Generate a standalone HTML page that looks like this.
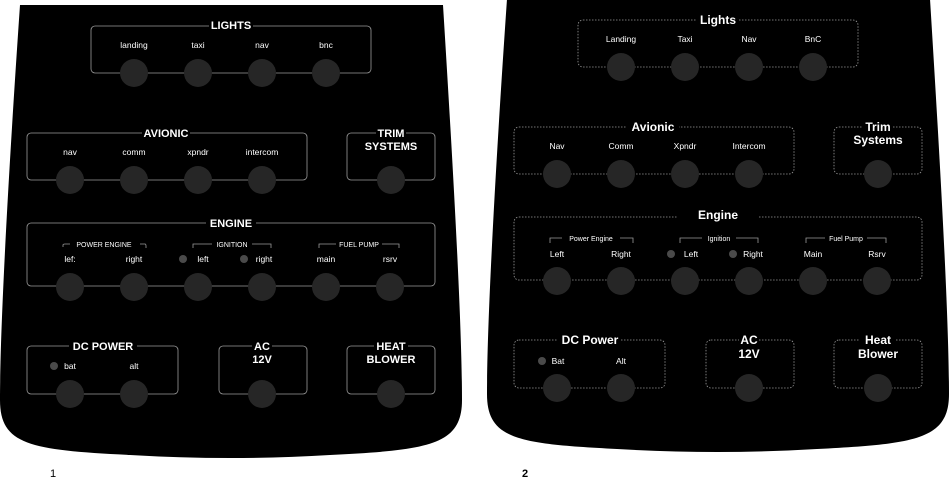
<!DOCTYPE html>
<html><head><meta charset="utf-8"><style>
html,body{margin:0;padding:0;background:#fff;}
svg{display:block;}
text{font-family:"Liberation Sans",sans-serif;fill:#fff;}
.t{font-weight:bold;font-size:11px;text-anchor:middle;}
.l{font-size:8.5px;text-anchor:middle;}
.s{font-size:7px;text-anchor:middle;}
.k{fill:#262626;}
.b{fill:none;stroke:#9a9a9a;stroke-width:0.8;}
.led{fill:#4a4a4a;}
</style></head><body>
<svg width="950" height="479" viewBox="0 0 950 479" xmlns="http://www.w3.org/2000/svg">
<defs>
<path id="shape" d="M20,5 L443,5 C452,150 462,320 462,400 C462,445 430,450 330,455 Q231,461 130,455 C30,450 0,445 0,400 C0,320 10,150 20,5 Z"/>
</defs>

<!-- PANEL 1 -->
<g>
<use href="#shape" fill="#000"/>
<g class="b">
<rect x="91" y="26" width="280" height="47" rx="4"/>
<rect x="27" y="133" width="280" height="47" rx="4"/>
<rect x="347" y="133" width="88" height="47" rx="4"/>
<rect x="27" y="223" width="408" height="63" rx="4"/>
<rect x="27" y="346" width="151" height="48" rx="4"/>
<rect x="219" y="346" width="88" height="48" rx="4"/>
<rect x="347" y="346" width="88" height="48" rx="4"/>
<path d="M63,247 L63,245 Q63,244 65,244 L145,244 Q146,244 146,246 L146,248"/>
<path d="M193,248 L193,244 L271,244 L271,248"/>
<path d="M319,248 L319,244 L399,244 L399,248"/>
</g>
<g fill="#000">
<rect x="209" y="20" width="44" height="12"/>
<rect x="142" y="127" width="48" height="12"/>
<rect x="376" y="127" width="30" height="12"/>
<rect x="206" y="217" width="50" height="12"/>
<rect x="69" y="340" width="68" height="12"/>
<rect x="252" y="340" width="20" height="12"/>
<rect x="374" y="340" width="34" height="12"/>
<rect x="70" y="240" width="70" height="8"/>
<rect x="212" y="240" width="40" height="8"/>
<rect x="336" y="240" width="46" height="8"/>
</g>
<text class="t" x="231" y="29">LIGHTS</text>
<text class="t" x="166" y="137">AVIONIC</text>
<text class="t" x="391" y="137">TRIM</text>
<text class="t" x="391" y="150">SYSTEMS</text>
<text class="t" x="231" y="227">ENGINE</text>
<text class="t" x="103" y="350">DC POWER</text>
<text class="t" x="262" y="350">AC</text>
<text class="t" x="262" y="363">12V</text>
<text class="t" x="391" y="350">HEAT</text>
<text class="t" x="391" y="363">BLOWER</text>
<text class="s" x="104" y="247">POWER ENGINE</text>
<text class="s" x="232" y="247">IGNITION</text>
<text class="s" x="359" y="247">FUEL PUMP</text>
<g class="l">
<text x="134" y="48">landing</text><text x="198" y="48">taxi</text><text x="262" y="48">nav</text><text x="326" y="48">bnc</text>
<text x="70" y="155">nav</text><text x="134" y="155">comm</text><text x="198" y="155">xpndr</text><text x="262" y="155">intercom</text>
<text x="70" y="262">lef:</text><text x="134" y="262">right</text><text x="203" y="262">left</text><text x="264" y="262">right</text><text x="326" y="262">main</text><text x="390" y="262">rsrv</text>
<text x="70" y="369">bat</text><text x="134" y="369">alt</text>
</g>
<circle class="led" cx="183" cy="259" r="4"/>
<circle class="led" cx="244" cy="259" r="4"/>
<circle class="led" cx="54" cy="366" r="4"/>
<g class="k">
<circle cx="134" cy="73" r="14"/><circle cx="198" cy="73" r="14"/><circle cx="262" cy="73" r="14"/><circle cx="326" cy="73" r="14"/>
<circle cx="70" cy="180" r="14"/><circle cx="134" cy="180" r="14"/><circle cx="198" cy="180" r="14"/><circle cx="262" cy="180" r="14"/><circle cx="391" cy="180" r="14"/>
<circle cx="70" cy="287" r="14"/><circle cx="134" cy="287" r="14"/><circle cx="198" cy="287" r="14"/><circle cx="262" cy="287" r="14"/><circle cx="326" cy="287" r="14"/><circle cx="390" cy="287" r="14"/>
<circle cx="70" cy="394" r="14"/><circle cx="134" cy="394" r="14"/><circle cx="262" cy="394" r="14"/><circle cx="391" cy="394" r="14"/>
</g>
<text x="50" y="477" style="fill:#000;font-size:11px;">1</text>
</g>

<!-- PANEL 2 -->
<g transform="translate(487,-6)">
<use href="#shape" fill="#000"/>
<g class="b" stroke-dasharray="1.5,1.5">
<rect x="91" y="26" width="280" height="47" rx="5"/>
<rect x="27" y="133" width="280" height="47" rx="5"/>
<rect x="347" y="133" width="88" height="47" rx="5"/>
<rect x="27" y="223" width="408" height="63" rx="5"/>
<rect x="27" y="346" width="151" height="48" rx="5"/>
<rect x="219" y="346" width="88" height="48" rx="5"/>
<rect x="347" y="346" width="88" height="48" rx="5"/>
</g>
<g class="b">
<path d="M63,249 L63,244 L146,244 L146,249"/>
<path d="M193,249 L193,244 L271,244 L271,249"/>
<path d="M319,249 L319,244 L399,244 L399,249"/>
</g>
<g fill="#000">
<rect x="210" y="19" width="42" height="14"/>
<rect x="140" y="126" width="52" height="14"/>
<rect x="376" y="126" width="30" height="14"/>
<rect x="190" y="214" width="82" height="14"/>
<rect x="71" y="339" width="62" height="14"/>
<rect x="252" y="339" width="20" height="14"/>
<rect x="373" y="339" width="36" height="14"/>
<rect x="75" y="240" width="58" height="8"/>
<rect x="215" y="240" width="34" height="8"/>
<rect x="338" y="240" width="42" height="8"/>
</g>
<text class="t" x="231" y="30" style="font-size:12px">Lights</text>
<text class="t" x="166" y="137" style="font-size:12px">Avionic</text>
<text class="t" x="391" y="137" style="font-size:12px">Trim</text>
<text class="t" x="391" y="150" style="font-size:12px">Systems</text>
<text class="t" x="231" y="225" style="font-size:12px">Engine</text>
<text class="t" x="103" y="350" style="font-size:12px">DC Power</text>
<text class="t" x="262" y="350" style="font-size:12px">AC</text>
<text class="t" x="262" y="364" style="font-size:12px">12V</text>
<text class="t" x="391" y="350" style="font-size:12px">Heat</text>
<text class="t" x="391" y="364" style="font-size:12px">Blower</text>
<text class="s" x="104" y="247">Power Engine</text>
<text class="s" x="232" y="247">Ignition</text>
<text class="s" x="359" y="247">Fuel Pump</text>
<g class="l">
<text x="134" y="48">Landing</text><text x="198" y="48">Taxi</text><text x="262" y="48">Nav</text><text x="326" y="48">BnC</text>
<text x="70" y="155">Nav</text><text x="134" y="155">Comm</text><text x="198" y="155">Xpndr</text><text x="262" y="155">Intercom</text>
<text x="70" y="263">Left</text><text x="134" y="263">Right</text><text x="204" y="263">Left</text><text x="266" y="263">Right</text><text x="326" y="263">Main</text><text x="390" y="263">Rsrv</text>
<text x="71" y="370">Bat</text><text x="134" y="370">Alt</text>
</g>
<circle class="led" cx="184" cy="260" r="4"/>
<circle class="led" cx="246" cy="260" r="4"/>
<circle class="led" cx="55" cy="367" r="4"/>
<g class="k">
<circle cx="134" cy="73" r="14"/><circle cx="198" cy="73" r="14"/><circle cx="262" cy="73" r="14"/><circle cx="326" cy="73" r="14"/>
<circle cx="70" cy="180" r="14"/><circle cx="134" cy="180" r="14"/><circle cx="198" cy="180" r="14"/><circle cx="262" cy="180" r="14"/><circle cx="391" cy="180" r="14"/>
<circle cx="70" cy="287" r="14"/><circle cx="134" cy="287" r="14"/><circle cx="198" cy="287" r="14"/><circle cx="262" cy="287" r="14"/><circle cx="326" cy="287" r="14"/><circle cx="390" cy="287" r="14"/>
<circle cx="70" cy="394" r="14"/><circle cx="134" cy="394" r="14"/><circle cx="262" cy="394" r="14"/><circle cx="391" cy="394" r="14"/>
</g>
</g>
<text x="522" y="477" style="fill:#000;font-size:11px;font-weight:bold;">2</text>
</svg>
</body></html>
